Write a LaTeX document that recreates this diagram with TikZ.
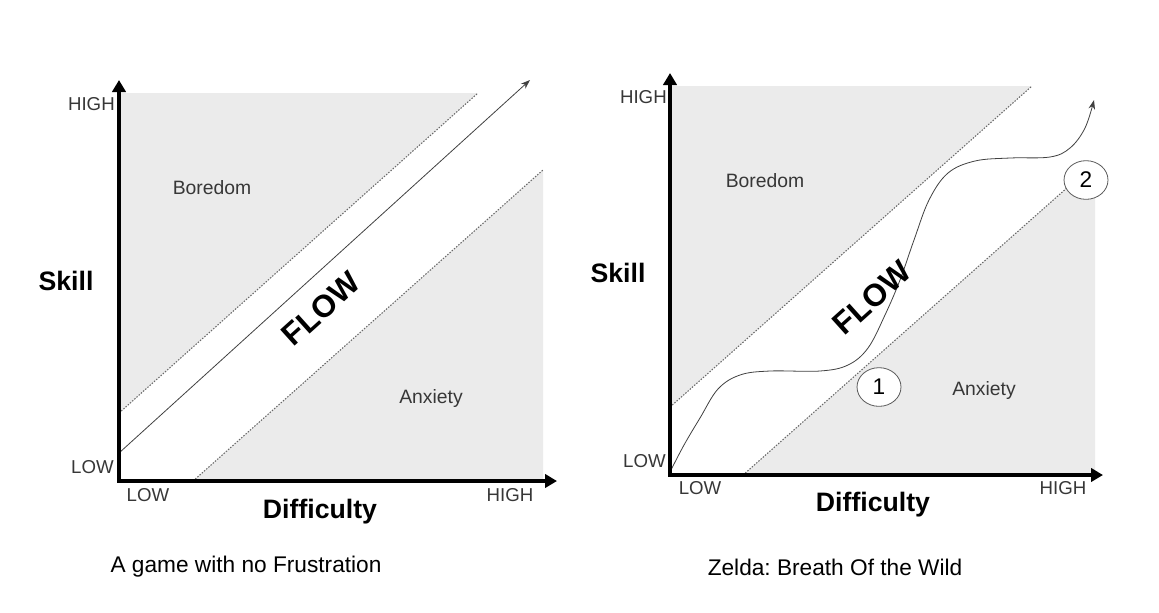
\documentclass[tikz,border=0pt]{standalone}
\usepackage{fontspec}
\setmainfont{Liberation Sans}
\usepackage{xcolor}
\usetikzlibrary{arrows.meta,shapes.geometric}
\frenchspacing
\definecolor{zonegray}{RGB}{235,235,235}
\definecolor{labelgray}{RGB}{55,55,55}
\definecolor{edgegray}{RGB}{105,105,105}
\tikzset{
  zone/.style={fill=zonegray, draw=none},
  edgeline/.style={draw=edgegray, line width=0.8pt, dash pattern=on 1.1pt off 1.1pt},
  axis/.style={line width=3pt, line join=miter, {Triangle[length=9pt,width=10pt]}-{Triangle[length=9pt,width=10pt]}},
  trail/.style={draw=black!75, line width=0.6pt, -{Stealth[length=7pt,width=5pt]}},
  lvl/.style={inner sep=0pt, text=labelgray, font=\fontsize{14}{16}\selectfont},
  zonetxt/.style={text=labelgray, font=\fontsize{14.5}{17}\selectfont},
  axtitle/.style={font=\fontsize{20}{24}\selectfont\bfseries},
  flowtxt/.style={rotate=42, inner sep=0pt, font=\fontsize{23.5}{27}\selectfont\bfseries},
  captxt/.style={font=\fontsize{17}{20}\selectfont},
  stage/.style={ellipse, draw=black!65, line width=0.6pt, fill=white, minimum width=33pt, minimum height=29pt, inner sep=0pt, font=\fontsize{17}{20}\selectfont},
}
\begin{document}
\begin{tikzpicture}[x=0.75pt,y=-0.75pt]
    \useasboundingbox (0,0) rectangle (1159,612);
    % ---- left chart: a game with no frustration
    \coordinate (Ly) at (119,80);
    \coordinate (Lx) at (557,481);
    \fill[zone] (119,93) -- (478,93) -- (119,413) -- cycle;
    \fill[zone] (193,481) -- (543,481) -- (543,170) -- cycle;
    \draw[edgeline] (119,413) -- (478,93);
    \draw[edgeline] (193,481) -- (543,170);
    \coordinate (Lstart) at (119,453);
    \coordinate (Lend) at (530,80);
    \draw[trail] (Lstart) -- (Lend);
    \draw[axis] (Ly) |- (Lx);
    % labels
    \node[lvl, anchor=east] (Lhigh) at (115,104) {HIGH};
    \node[lvl, anchor=east] (Llow) at (114,467) {LOW};
    \node[lvl] (Lxlow) at (148,495) {LOW};
    \node[lvl] (Lxhigh) at (510,495) {HIGH};
    \node[axtitle] (Lskill) at (66,281) {Skill};
    \node[axtitle] (Ldiff) at (320,512) {Difficulty};
    \node[zonetxt] (Lbore) at (212,188) {Boredom};
    \node[zonetxt] (Lanx) at (431,398) {Anxiety};
    \node[flowtxt] (Lflow) at (321,309) {FLOW};
    \node[captxt] (Lcap) at (246,567) {A game with no Frustration};
    % ---- right chart: zelda
    \coordinate (Ry) at (670,73);
    \coordinate (Rx) at (1103,475);
    \fill[zone] (670,86) -- (1032,86) -- (670,407) -- cycle;
    \fill[zone] (743,475) -- (1095,475) -- (1095,163) -- cycle;
    \draw[edgeline] (670,407) -- (1032,86);
    \draw[edgeline] (743,475) -- (1095,163);
    \draw[trail] plot[smooth, tension=0.6] coordinates {(671,470) (684,445) (700,418) (718,389) (740,375) (770,371) (820,371) (848,365) (868,348) (885,315) (900,280) (914,240) (929,200) (948,173) (975,161) (1010,158) (1050,157) (1070,148) (1085,128) (1094,100)};
    \draw[axis] (Ry) |- (Rx);
    \node[stage] (one) at (879,387) {1};
    \node[stage] (two) at (1086,180) {2};
    % labels
    \node[lvl, anchor=east] (Rhigh) at (667,97) {HIGH};
    \node[lvl, anchor=east] (Rlow) at (666,461) {LOW};
    \node[lvl] (Rxlow) at (700,488) {LOW};
    \node[lvl] (Rxhigh) at (1063,488) {HIGH};
    \node[axtitle] (Rskill) at (618,273) {Skill};
    \node[axtitle] (Rdiff) at (873,505) {Difficulty};
    \node[zonetxt] (Rbore) at (765,181) {Boredom};
    \node[zonetxt] (Ranx) at (984,390) {Anxiety};
    \node[flowtxt] (Rflow) at (872,298) {FLOW};
    \node[captxt] (Rcap) at (835,567) {Zelda: Breath Of the Wild};
\end{tikzpicture}
\end{document}
